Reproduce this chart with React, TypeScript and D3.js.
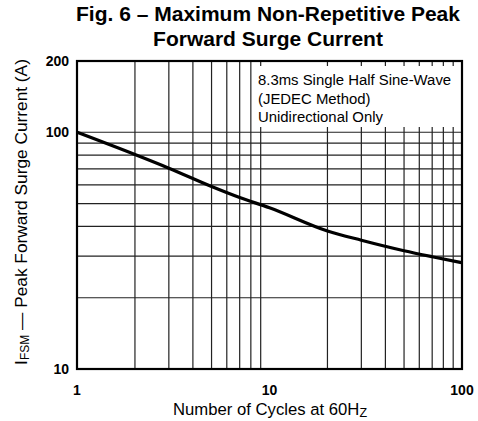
import React from "react";
import * as d3 from "d3";

const cycles = [1, 2, 3, 5, 7, 10, 20, 30, 50, 70, 100];
const current = [100, 80.5, 70.5, 59, 53, 48, 38.3, 35, 31.6, 29.8, 28.1];
const xTickLabels = [1, 10, 100];
const yTickLabels = [10, 100, 200];
const noteLines = ["8.3ms Single Half Sine-Wave", "(JEDEC Method)", "Unidirectional Only"];

const W = 478, H = 421;
const L = 77, R = 462, T = 61, B = 369;

export default function App() {
  const x = d3.scaleLog().domain([1, 100]).range([L, R]);
  const y = d3.scaleLog().domain([10, 200]).range([B, T]);
  const xGrid: number[] = [];
  for (const d of [1, 10]) for (let k = 2; k <= 9; k++) xGrid.push(d * k);
  const yGrid: number[] = [];
  for (let k = 2; k <= 9; k++) yGrid.push(10 * k);
  yGrid.push(100);
  const line = d3
    .line<number>()
    .x((_, i) => x(cycles[i]))
    .y((v) => y(v))
    .curve(d3.curveMonotoneX);
  const box = { x0: 252, x1: 459, y0: 66, y1: 127 };
  const font = "'Liberation Sans', Arial, Helvetica, sans-serif";
  return (
    <svg width={W} height={H} style={{ position: "absolute", left: 0, top: 0, background: "#fff" }} fontFamily={font}>
      <rect x={0} y={0} width={W} height={H} fill="#fff" />
      <text x={268} y={21} textAnchor="middle" fontSize={21} fontWeight="bold" fill="#000">
        Fig. 6 – Maximum Non-Repetitive Peak
      </text>
      <text x={268} y={45.5} textAnchor="middle" fontSize={21} fontWeight="bold" fill="#000">
        Forward Surge Current
      </text>
      {xGrid.map((v) => (
        <line key={"xg" + v} x1={x(v)} x2={x(v)} y1={T} y2={B} stroke="#222" strokeWidth={1.2} />
      ))}
      {yGrid.map((v) => (
        <line key={"yg" + v} x1={L} x2={R} y1={y(v)} y2={y(v)} stroke="#222" strokeWidth={1.2} />
      ))}
      <rect x={box.x0} y={box.y0} width={box.x1 - box.x0} height={box.y1 - box.y0} fill="#fff" />
      {noteLines.map((t, i) => (
        <text key={t} x={258} y={85 + i * 18.5} fontSize={14.9} fill="#000">
          {t}
        </text>
      ))}
      <path d={line(current) || ""} fill="none" stroke="#000" strokeWidth={3.2} strokeLinejoin="round" />
      <rect x={L} y={T} width={R - L} height={B - T} fill="none" stroke="#000" strokeWidth={2.2} />
      {yTickLabels.map((v) => (
        <text key={"yt" + v} x={69} y={y(v) + 5} textAnchor="end" fontSize={14} fontWeight="bold" fill="#000">
          {v}
        </text>
      ))}
      {xTickLabels.map((v) => (
        <text key={"xt" + v} x={x(v)} y={395} textAnchor="middle" fontSize={14} fontWeight="bold" fill="#000">
          {v}
        </text>
      ))}
      <text x={270} y={415} textAnchor="middle" fontSize={16.7} fill="#000">
        Number of Cycles at 60H<tspan fontSize={12.5} dy={2}>Z</tspan>
      </text>
      <text transform="translate(27,212) rotate(-90)" textAnchor="middle" fontSize={17.3} fill="#000">
        I<tspan fontSize={12} dy={2}>FSM</tspan>
        <tspan dy={-2}> — Peak Forward Surge Current (A)</tspan>
      </text>
    </svg>
  );
}
